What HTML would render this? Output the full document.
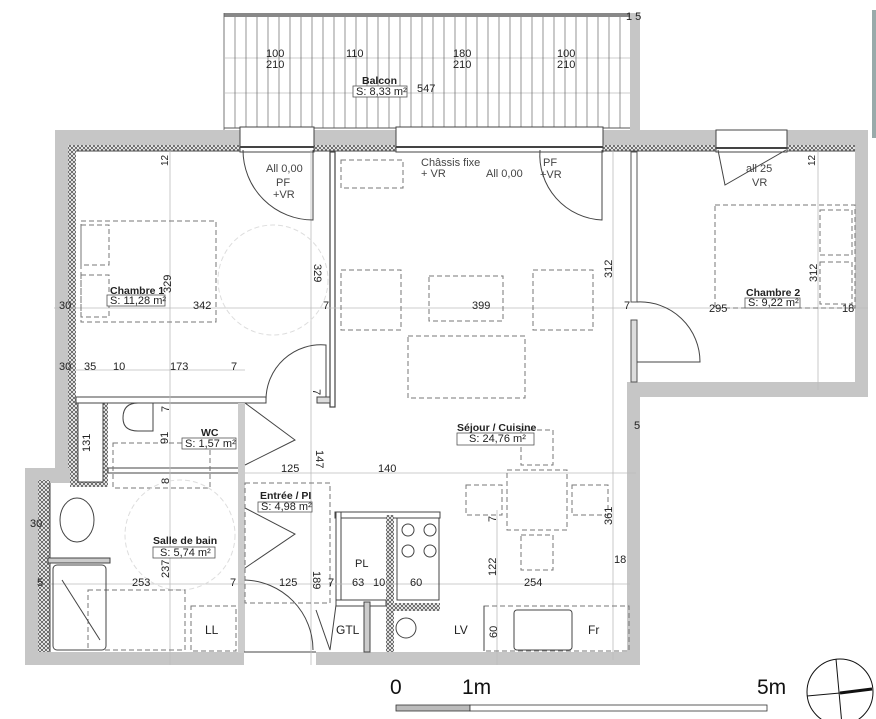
<!DOCTYPE html>
<html><head><meta charset="utf-8"><style>
html,body{margin:0;padding:0;background:#fff;}
svg{display:block;font-family:"Liberation Sans",sans-serif;}
.t{font-size:11px;fill:#222;}
.b{font-size:10.5px;font-weight:bold;fill:#222;}
.w{fill:#c6c6c6;}
.l{stroke:#444;stroke-width:1;fill:none;}
.th{stroke:#bbb;stroke-width:0.8;fill:none;}
.d{stroke:#777;stroke-width:1;fill:none;stroke-dasharray:5,3;}
.box{fill:#fff;stroke:#555;stroke-width:0.8;}
</style></head><body>
<svg width="876" height="719" viewBox="0 0 876 719" xmlns="http://www.w3.org/2000/svg">
<defs>
<pattern id="h" width="4" height="4" patternUnits="userSpaceOnUse">
<rect width="4" height="4" fill="#fff"/><path d="M0,0L4,4M4,0L0,4" stroke="#555" stroke-width="0.8"/></pattern>
</defs>
<rect x="224" y="13" width="406" height="4" fill="#888"/>
<line x1="224" y1="13" x2="224" y2="130" stroke="#555" stroke-width="0.8"/>
<rect x="630" y="13" width="10" height="117" class="w"/>
<line x1="224" y1="58" x2="630" y2="58" class="th"/>
<line x1="224" y1="93" x2="630" y2="93" class="th"/>
<line x1="224" y1="128" x2="630" y2="128" stroke="#555"/>
<g stroke="#666" stroke-width="0.7">
<line x1="235" y1="17" x2="235" y2="128"/><line x1="246" y1="17" x2="246" y2="128"/><line x1="257" y1="17" x2="257" y2="128"/><line x1="268" y1="17" x2="268" y2="128"/><line x1="279" y1="17" x2="279" y2="128"/><line x1="290" y1="17" x2="290" y2="128"/><line x1="301" y1="17" x2="301" y2="128"/><line x1="312" y1="17" x2="312" y2="128"/><line x1="323" y1="17" x2="323" y2="128"/><line x1="334" y1="17" x2="334" y2="128"/><line x1="345" y1="17" x2="345" y2="128"/><line x1="356" y1="17" x2="356" y2="128"/><line x1="367" y1="17" x2="367" y2="128"/><line x1="378" y1="17" x2="378" y2="128"/><line x1="389" y1="17" x2="389" y2="128"/><line x1="400" y1="17" x2="400" y2="128"/><line x1="411" y1="17" x2="411" y2="128"/><line x1="422" y1="17" x2="422" y2="128"/><line x1="433" y1="17" x2="433" y2="128"/><line x1="444" y1="17" x2="444" y2="128"/><line x1="455" y1="17" x2="455" y2="128"/><line x1="466" y1="17" x2="466" y2="128"/><line x1="477" y1="17" x2="477" y2="128"/><line x1="488" y1="17" x2="488" y2="128"/><line x1="499" y1="17" x2="499" y2="128"/><line x1="510" y1="17" x2="510" y2="128"/><line x1="521" y1="17" x2="521" y2="128"/><line x1="532" y1="17" x2="532" y2="128"/><line x1="543" y1="17" x2="543" y2="128"/><line x1="554" y1="17" x2="554" y2="128"/><line x1="565" y1="17" x2="565" y2="128"/><line x1="576" y1="17" x2="576" y2="128"/><line x1="587" y1="17" x2="587" y2="128"/><line x1="598" y1="17" x2="598" y2="128"/><line x1="609" y1="17" x2="609" y2="128"/><line x1="620" y1="17" x2="620" y2="128"/>
</g>
<text class="t" x="266" y="57">100</text><text class="t" x="266" y="68">210</text>
<text class="t" x="346" y="57">110</text>
<text class="t" x="453" y="57">180</text><text class="t" x="453" y="68">210</text>
<text class="t" x="557" y="57">100</text><text class="t" x="557" y="68">210</text>
<text class="t" x="626" y="20" font-size="10">1 5</text>
<text class="b" x="362" y="84">Balcon</text>
<rect class="box" x="353" y="86" width="54" height="11"/>
<text class="t" x="356" y="95" font-size="10">S: 8,33 m²</text>
<text class="t" x="417" y="92">547</text>

<rect x="55" y="130" width="813" height="15" class="w"/>
<rect x="68" y="145" width="800" height="6" fill="url(#h)"/>
<rect x="55" y="130" width="14" height="340" class="w"/>
<rect x="68" y="145" width="8" height="325" fill="url(#h)"/>
<rect x="25" y="468" width="52" height="15" class="w"/>
<rect x="25" y="468" width="15" height="197" class="w"/>
<rect x="38" y="480" width="12" height="172" fill="url(#h)"/>
<rect x="70" y="397" width="38" height="90" fill="url(#h)"/>
<rect x="78" y="402" width="25" height="80" fill="#fff" stroke="#444"/>
<rect x="25" y="652" width="615" height="13" class="w"/>
<rect x="627" y="383" width="13" height="282" class="w"/>
<rect x="627" y="382" width="241" height="15" class="w"/>
<rect x="855" y="145" width="13" height="252" class="w"/>
<line x1="76" y1="151" x2="855" y2="151" class="l"/>
<line x1="50" y1="483" x2="50" y2="652" class="l" stroke-width="3"/>
<rect x="240" y="127" width="74" height="25" fill="#fff" stroke="#444"/>
<line x1="240" y1="147" x2="314" y2="147" stroke="#444" stroke-width="2"/>
<rect x="396" y="127" width="207" height="25" fill="#fff" stroke="#444"/>
<line x1="396" y1="147" x2="603" y2="147" stroke="#444" stroke-width="2"/>
<rect x="716" y="130" width="71" height="22" fill="#fff" stroke="#444"/>
<line x1="716" y1="148" x2="787" y2="148" stroke="#444" stroke-width="2"/>

<rect x="330" y="152" width="5" height="255" fill="#fff" stroke="#444" stroke-width="1.2"/>
<rect x="631" y="152" width="6" height="150" fill="#fff" stroke="#555"/>
<rect x="631" y="320" width="6" height="62" fill="#ddd" stroke="#555"/>
<rect x="76" y="397" width="190" height="6" fill="#fff" stroke="#444"/>
<rect x="317" y="397" width="13" height="6" fill="#ddd" stroke="#444"/>
<rect x="108" y="468" width="132" height="5" fill="#fff" stroke="#444"/>
<rect x="238" y="403" width="7" height="250" fill="#ccc"/>
<rect x="48" y="558" width="62" height="5" fill="#ccc" stroke="#444"/>
<rect x="335" y="512" width="105" height="6" fill="#fff" stroke="#444"/>
<rect x="336" y="512" width="5" height="90" fill="#fff" stroke="#444"/>
<rect x="386" y="515" width="8" height="137" fill="url(#h)"/>
<rect x="394" y="603" width="46" height="8" fill="url(#h)"/>
<rect x="336" y="600" width="50" height="6" fill="#fff" stroke="#444"/>
<rect x="364" y="602" width="6" height="50" fill="#ccc" stroke="#444"/>
<rect x="244" y="652" width="72" height="13" fill="#fff"/>
<line x1="244" y1="652" x2="316" y2="652" class="l"/>

<g class="th">
<line x1="170" y1="150" x2="170" y2="665"/><line x1="54" y1="308" x2="868" y2="308"/>
<line x1="76" y1="370" x2="245" y2="370"/><line x1="311" y1="150" x2="311" y2="665"/>
<line x1="245" y1="473" x2="636" y2="473"/><line x1="50" y1="584" x2="630" y2="584"/>
<line x1="497" y1="510" x2="497" y2="665"/><line x1="613" y1="150" x2="613" y2="660"/>
<line x1="818" y1="150" x2="818" y2="390"/>
</g>
<g class="l" stroke-width="0.8">
<path d="M243,150 A70,70 0 0 0 313,220 L313,150"/>
<path d="M540,150 A65,65 0 0 0 602,220 L602,150"/>
<path d="M718,150 L725,185 L786,150"/>
<path d="M637,302 A60,60 0 0 1 700,362 L637,362"/>
<path d="M266,400 A55,55 0 0 1 326,345 L326,397"/>
<path d="M245,403 L295,440 L245,465"/>
<path d="M245,508 L295,534 L245,568"/>
<path d="M245,580 A70,70 0 0 1 313,650"/>
<path d="M316,610 L330,650 L336,605"/>
</g>
<g class="d">
<rect x="81" y="221" width="135" height="101"/>
<rect x="81" y="225" width="28" height="40"/><rect x="81" y="275" width="28" height="42"/>
<circle cx="273" cy="280" r="55" stroke="#ddd"/>
<rect x="341" y="160" width="62" height="28"/>
<rect x="341" y="270" width="60" height="60"/>
<rect x="429" y="276" width="74" height="45"/>
<rect x="533" y="270" width="60" height="60"/>
<rect x="408" y="336" width="117" height="62"/>
<rect x="715" y="205" width="140" height="103"/>
<rect x="820" y="210" width="32" height="45"/><rect x="820" y="262" width="32" height="42"/>
<rect x="507" y="470" width="60" height="60"/>
<rect x="521" y="430" width="32" height="35"/><rect x="521" y="535" width="32" height="35"/>
<rect x="466" y="485" width="36" height="30"/><rect x="572" y="485" width="36" height="30"/>
<rect x="113" y="443" width="97" height="45"/>
<circle cx="180" cy="535" r="55" stroke="#ddd"/>
<rect x="88" y="590" width="97" height="60"/>
<rect x="191" y="606" width="45" height="45"/>
<rect x="245" y="483" width="85" height="120"/>
<rect x="484" y="606" width="145" height="45"/>
</g>
<g class="l" stroke-width="0.8">
<path d="M123,418 q0,-15 15,-15 h15 v28 h-15 q-15,0 -15,-13z"/>
<ellipse cx="77" cy="520" rx="17" ry="22"/>
<rect x="53" y="565" width="53" height="85" rx="4"/>
<line x1="62" y1="580" x2="100" y2="640"/>
<rect x="514" y="610" width="58" height="40" rx="3"/>
<rect x="397" y="518" width="42" height="82"/>
<circle cx="408" cy="530" r="6"/><circle cx="430" cy="530" r="6"/><circle cx="408" cy="551" r="6"/><circle cx="430" cy="551" r="6"/>
<circle cx="406" cy="628" r="10"/>
<line x1="484" y1="606" x2="484" y2="651"/>
</g>

<g class="t">
<text x="160" y="162" transform="rotate(-90 166 160)" font-size="10">12</text>
<text x="266" y="172" fill="#444">All 0,00</text><text x="276" y="186" fill="#444">PF</text><text x="273" y="198" fill="#444">+VR</text>
<text x="421" y="166" fill="#444">Châssis fixe</text><text x="421" y="177" fill="#444">+ VR</text>
<text x="486" y="177" fill="#444">All 0,00</text><text x="543" y="166" fill="#444">PF</text><text x="540" y="178" fill="#444">+VR</text>
<text x="746" y="172" fill="#444">all 25</text><text x="752" y="186" fill="#444">VR</text>
<text x="807" y="162" transform="rotate(-90 813 160)" font-size="10">12</text>
<text x="156" y="286" transform="rotate(-90 167 282)">329</text>
<text x="306" y="272" transform="rotate(90 314 272)">329</text>
<text x="193" y="309">342</text><text x="59" y="309">30</text><text x="323" y="309">7</text>
<text x="472" y="309">399</text><text x="624" y="309">7</text>
<text x="598" y="272" transform="rotate(-90 608 268)">312</text>
<text x="709" y="312">295</text><text x="842" y="312">18</text>
<text x="803" y="276" transform="rotate(-90 813 272)">312</text>
<text x="59" y="370">30</text><text x="84" y="370">35</text><text x="113" y="370">10</text><text x="170" y="370">173</text><text x="231" y="370">7</text>
<text x="162" y="411" transform="rotate(-90 166 408)">7</text>
<text x="158" y="440" transform="rotate(-90 165 437)">91</text>
<text x="80" y="448" transform="rotate(-90 87 445)">131</text>
<text x="312" y="396" transform="rotate(90 316 393)">7</text>
<text x="306" y="460" transform="rotate(90 316 460)">147</text>
<text x="281" y="472">125</text><text x="378" y="472">140</text>
<text x="162" y="483" transform="rotate(-90 166 480)">8</text>
<text x="30" y="527">30</text>
<text x="155" y="570" transform="rotate(-90 166 567)">237</text>
<text x="132" y="586">253</text><text x="230" y="586">7</text><text x="279" y="586">125</text>
<text x="304" y="580" transform="rotate(90 313 580)">189</text>
<text x="328" y="586">7</text><text x="352" y="586">63</text><text x="373" y="586">10</text><text x="410" y="586">60</text>
<text x="355" y="567">PL</text><text x="37" y="586">5</text>
<text x="482" y="568" transform="rotate(-90 493 565)">122</text>
<text x="524" y="586">254</text>
<text x="489" y="521" transform="rotate(-90 493 518)">7</text>
<text x="598" y="519" transform="rotate(-90 608 515)">361</text>
<text x="614" y="563">18</text><text x="634" y="429">5</text>
<text x="205" y="634" font-size="12">LL</text><text x="336" y="634" font-size="12">GTL</text>
<text x="454" y="634" font-size="12">LV</text>
<text x="485" y="634" transform="rotate(-90 493 630)">60</text>
<text x="588" y="634" font-size="12">Fr</text>
</g>
<text class="b" x="110" y="294">Chambre 1</text>
<rect class="box" x="107" y="295" width="58" height="11"/><text class="t" x="110" y="304" font-size="10">S: 11,28 m²</text>
<text class="b" x="746" y="296">Chambre 2</text>
<rect class="box" x="745" y="298" width="55" height="10"/><text class="t" x="748" y="306" font-size="10">S: 9,22 m²</text>
<text class="b" x="201" y="436">WC</text>
<rect class="box" x="182" y="438" width="54" height="11"/><text class="t" x="185" y="447" font-size="10">S: 1,57 m²</text>
<text class="b" x="457" y="431">Séjour / Cuisine</text>
<rect class="box" x="457" y="433" width="77" height="12"/><text class="t" x="469" y="442" font-size="10">S: 24,76 m²</text>
<text class="b" x="260" y="499">Entrée / PI</text>
<rect class="box" x="258" y="502" width="54" height="10"/><text class="t" x="261" y="510" font-size="10">S: 4,98 m²</text>
<text class="b" x="153" y="544">Salle de bain</text>
<rect class="box" x="153" y="547" width="62" height="11"/><text class="t" x="160" y="556" font-size="10">S: 5,74 m²</text>

<text x="390" y="694" font-size="21" fill="#111">0</text>
<text x="462" y="694" font-size="21" fill="#111">1m</text>
<text x="757" y="694" font-size="21" fill="#111">5m</text>
<rect x="396" y="705" width="74" height="6" fill="#bbb" stroke="#333" stroke-width="0.8"/>
<rect x="470" y="705" width="297" height="6" fill="#fff" stroke="#333" stroke-width="0.8"/>
<circle cx="840" cy="692" r="33" fill="none" stroke="#111" stroke-width="1"/>
<line x1="836" y1="659" x2="842" y2="725" stroke="#111"/>
<line x1="807" y1="696" x2="840" y2="693" stroke="#111"/>
<line x1="840" y1="693" x2="872" y2="689" stroke="#111" stroke-width="3"/>
<rect x="872" y="10" width="4" height="128" fill="#9aa"/>
</svg>
</body></html>
